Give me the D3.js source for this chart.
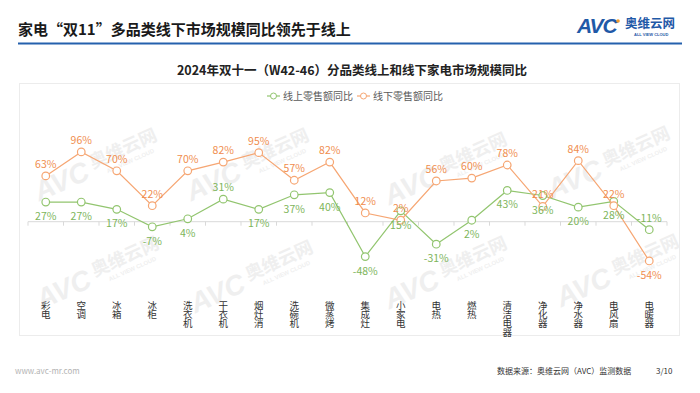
<!DOCTYPE html>
<html>
<head>
<meta charset="utf-8">
<script src="https://cdn.jsdelivr.net/npm/d3@7"></script>
<style>
  html, body { margin: 0; padding: 0; background: #fff; }
  svg { display: block; font-family: "Microsoft YaHei", "Noto Sans CJK SC", sans-serif; }
</style>
</head>
<body>
<div class="chart"></div>
<script>
// data
var categories = ["彩电", "空调", "冰箱", "冰柜", "洗衣机", "干衣机", "烟灶消", "洗碗机", "微蒸烤",
    "集成灶", "小家电", "电热", "燃热", "清洁电器", "净化器", "净水器", "电风扇", "电暖器"];
var onlineYoY = [27, 27, 17, -7, 4, 31, 17, 37, 40, -48, 15, -31, 2, 43, 36, 20, 28, -11];
var offlineYoY = [63, 96, 70, 22, 70, 82, 95, 57, 82, 12, 2, 56, 60, 78, 21, 84, 22, -54];
var seriesNames = ["线上零售额同比", "线下零售额同比"];

// labels that sit on the other side of their point
var onlineAbove = ["干衣机", "电暖器"];
var offlineBelow = ["电暖器"];

var W = 700, H = 393;
var green = "#92c56f", greenText = "#7db55a";
var orange = "#f6a673", orangeText = "#f08d4e";

var svg = d3.select(".chart").append("svg")
    .attr("width", W)
    .attr("height", H);

// page header
svg.append("text")
    .attr("x", 18).attr("y", 35)
    .attr("font-size", 15).attr("font-weight", "bold")
    .attr("fill", "#1a1a1a")
    .text("家电“双11”多品类线下市场规模同比领先于线上");

svg.append("line")
    .attr("x1", 18).attr("x2", 682)
    .attr("y1", 43.5).attr("y2", 43.5)
    .attr("stroke", "#2561ad").attr("stroke-width", 2.2);

// logo
var logo = svg.append("g");
logo.append("text")
    .attr("x", 577).attr("y", 33)
    .attr("font-family", "Arial, Liberation Sans, sans-serif")
    .attr("font-size", 21).attr("font-weight", "bold").attr("font-style", "italic")
    .attr("fill", "#1f59a7")
    .attr("letter-spacing", -1)
    .text("AVC");
logo.append("circle")
    .attr("cx", 618).attr("cy", 21).attr("r", 1.8)
    .attr("fill", "#f39a2b");
logo.append("text")
    .attr("x", 625).attr("y", 27.5)
    .attr("font-size", 12.5).attr("font-weight", "bold")
    .attr("fill", "#1f59a7")
    .text("奥维云网");
logo.append("text")
    .attr("x", 634).attr("y", 36)
    .attr("font-family", "Arial, Liberation Sans, sans-serif")
    .attr("font-size", 4).attr("font-weight", "bold")
    .attr("fill", "#1f59a7")
    .text("ALL VIEW CLOUD");

// chart frame
svg.append("rect")
    .attr("x", 19.5).attr("y", 83.5)
    .attr("width", 660).attr("height", 252)
    .attr("fill", "none")
    .attr("stroke", "#ececec");

// watermarks
var marks = [[90, 168], [242, 168], [440, 172], [603, 166], [92, 276], [246, 280], [440, 276], [612, 274]];
var wm = svg.append("g").attr("fill", "#efefef");
marks.forEach(function(m) {
    var g = wm.append("g").attr("transform", "translate(" + m[0] + "," + m[1] + ") rotate(-24)");
    g.append("text")
        .attr("x", -60).attr("y", 10)
        .attr("font-family", "Arial, Liberation Sans, sans-serif")
        .attr("font-size", 28).attr("font-weight", "bold").attr("font-style", "italic")
        .text("AVC");
    g.append("text")
        .attr("x", 2).attr("y", 2)
        .attr("font-size", 18).attr("font-weight", "bold")
        .text("奥维云网");
    g.append("text")
        .attr("x", 14).attr("y", 12)
        .attr("font-family", "Arial, Liberation Sans, sans-serif")
        .attr("font-size", 6).attr("font-weight", "bold")
        .text("ALL VIEW CLOUD");
});

// chart title
svg.append("text")
    .attr("x", 352).attr("y", 75)
    .attr("text-anchor", "middle")
    .attr("font-size", 12.5).attr("font-weight", "bold")
    .attr("fill", "#222")
    .text("2024年双十一（W42-46）分品类线上和线下家电市场规模同比");

// legend
var legendX = [267, 357];
var legend = svg.selectAll(".legend")
    .data(seriesNames)
    .enter().append("g")
    .attr("class", "legend")
    .attr("transform", function(d, i) { return "translate(" + legendX[i] + ",96)"; });
legend.append("line")
    .attr("x1", 0).attr("x2", 13)
    .attr("stroke", function(d, i) { return i ? orange : green; })
    .attr("stroke-width", 1.2);
legend.append("circle")
    .attr("cx", 6.5).attr("r", 3)
    .attr("fill", "#fff")
    .attr("stroke", function(d, i) { return i ? orange : green; });
legend.append("text")
    .attr("x", 16).attr("y", 3.5)
    .attr("font-size", 10)
    .attr("fill", "#595959")
    .text(function(d) { return d; });

// scales
var x = d3.scaleBand().domain(categories).range([28, 667]);
var y = d3.scaleLinear().domain([-60, 100]).range([265.3, 149]);
var cx = function(d) { return x(d) + x.bandwidth() / 2; };

// zero axis with ticks on the band edges
var axis = svg.append("g").attr("stroke", "#d9d9d9");
axis.append("line")
    .attr("x1", x.range()[0]).attr("x2", x.range()[1])
    .attr("y1", y(0)).attr("y2", y(0));
axis.selectAll(".tick")
    .data(categories.concat(["end"]))
    .enter().append("line")
    .attr("x1", function(d, i) { return x.range()[0] + i * x.step(); })
    .attr("x2", function(d, i) { return x.range()[0] + i * x.step(); })
    .attr("y1", y(0)).attr("y2", y(0) + 4);

// vertical category labels
svg.selectAll(".cat")
    .data(categories)
    .enter().append("text")
    .attr("class", "cat")
    .attr("x", function(d) { return cx(d); })
    .attr("y", 300.5)
    .style("writing-mode", "vertical-rl")
    .style("text-orientation", "upright")
    .attr("font-size", 9.5)
    .attr("letter-spacing", -0.6)
    .attr("fill", "#333")
    .text(function(d) { return d; });

// series
var series = [
    { values: onlineYoY, color: green, textColor: greenText, flip: onlineAbove, below: true },
    { values: offlineYoY, color: orange, textColor: orangeText, flip: offlineBelow, below: false }
];

var line = d3.line()
    .x(function(d) { return cx(d.cat); })
    .y(function(d) { return y(d.v); });

series.forEach(function(s) {
    var pts = categories.map(function(c, i) { return { cat: c, v: s.values[i] }; });
    var g = svg.append("g");
    g.append("path")
        .attr("d", line(pts))
        .attr("fill", "none")
        .attr("stroke", s.color)
        .attr("stroke-width", 1.2);
    g.selectAll("circle")
        .data(pts)
        .enter().append("circle")
        .attr("cx", function(d) { return cx(d.cat); })
        .attr("cy", function(d) { return y(d.v); })
        .attr("r", 3.8)
        .attr("fill", "#fff")
        .attr("stroke", s.color)
        .attr("stroke-width", 1.2);
    s.pts = pts;
});

// labels drawn after both lines so they sit on top
series.forEach(function(s) {
    svg.append("g").selectAll("text")
        .data(s.pts)
        .enter().append("text")
        .attr("x", function(d) { return cx(d.cat); })
        .attr("y", function(d) {
            var below = s.flip.indexOf(d.cat) >= 0 ? !s.below : s.below;
            return y(d.v) + (below ? 18 : -8);
        })
        .attr("text-anchor", "middle")
        .attr("font-size", 10.5)
        .attr("fill", s.textColor)
        .text(function(d) { return d.v + "%"; });
});

// footer
svg.append("text")
    .attr("x", 15).attr("y", 374)
    .attr("font-size", 8).attr("fill", "#b3b3b3")
    .text("www.avc-mr.com");
svg.append("text")
    .attr("x", 497).attr("y", 374)
    .attr("font-size", 8).attr("fill", "#333")
    .text("数据来源：奥维云网（AVC）监测数据");
svg.append("text")
    .attr("x", 656).attr("y", 374)
    .attr("font-size", 8).attr("fill", "#333")
    .text("3/10");
</script>
</body>
</html>
